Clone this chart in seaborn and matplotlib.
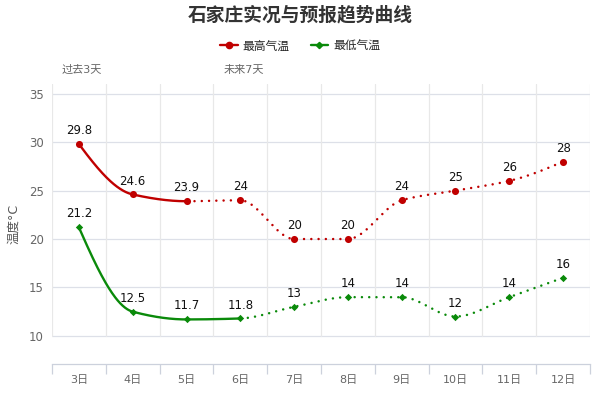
import numpy as np
import pandas as pd
import matplotlib
matplotlib.use("Agg")
import matplotlib.pyplot as plt
import seaborn as sns
from matplotlib.lines import Line2D

days = ["3日", "4日", "5日", "6日", "7日", "8日", "9日", "10日", "11日", "12日"]
high = [29.8, 24.6, 23.9, 24, 20, 20, 24, 25, 26, 28]
low = [21.2, 12.5, 11.7, 11.8, 13, 14, 14, 12, 14, 16]
high_labels = ["29.8", "24.6", "23.9", "24", "20", "20", "24", "25", "26", "28"]
low_labels = ["21.2", "12.5", "11.7", "11.8", "13", "14", "14", "12", "14", "16"]
high_solid_end = 2
low_solid_end = 3
title = "石家庄实况与预报趋势曲线"
ylabel = "温度°C"
past_label = "过去3天"
future_label = "未来7天"
yticks = [10, 15, 20, 25, 30, 35]

RED = "#c00000"
GREEN = "#0a8a0a"

sns.set_theme(style="white")
plt.rcParams["font.family"] = ["DejaVu Sans", "Noto Sans CJK SC"]


def pchip(x, y, xs):
    x = np.asarray(x, float)
    y = np.asarray(y, float)
    h = np.diff(x)
    d = np.diff(y) / h
    n = len(x)
    m = np.zeros(n)
    for k in range(1, n - 1):
        if d[k - 1] * d[k] <= 0:
            m[k] = 0
        else:
            w1 = 2 * h[k] + h[k - 1]
            w2 = h[k] + 2 * h[k - 1]
            m[k] = (w1 + w2) / (w1 / d[k - 1] + w2 / d[k])
    m[0] = ((2 * h[0] + h[1]) * d[0] - h[0] * d[1]) / (h[0] + h[1])
    if np.sign(m[0]) != np.sign(d[0]):
        m[0] = 0
    elif np.sign(d[0]) != np.sign(d[1]) and abs(m[0]) > abs(3 * d[0]):
        m[0] = 3 * d[0]
    m[-1] = ((2 * h[-1] + h[-2]) * d[-1] - h[-1] * d[-2]) / (h[-1] + h[-2])
    if np.sign(m[-1]) != np.sign(d[-1]):
        m[-1] = 0
    elif np.sign(d[-1]) != np.sign(d[-2]) and abs(m[-1]) > abs(3 * d[-1]):
        m[-1] = 3 * d[-1]
    out = np.empty_like(xs, dtype=float)
    for i, xv in enumerate(xs):
        k = min(np.searchsorted(x, xv, side="right") - 1, n - 2)
        k = max(k, 0)
        t = (xv - x[k]) / h[k]
        h00 = 2 * t**3 - 3 * t**2 + 1
        h10 = t**3 - 2 * t**2 + t
        h01 = -2 * t**3 + 3 * t**2
        h11 = t**3 - t**2
        out[i] = h00 * y[k] + h10 * h[k] * m[k] + h01 * y[k + 1] + h11 * h[k] * m[k + 1]
    return out


fig = plt.figure(figsize=(6, 4), dpi=100)
ax = fig.add_axes([0.0867, 0.09, 0.8966, 0.70])

xpos = np.arange(len(days))
ymin, ymax = 7.1, 36.0

# grid
for yv in yticks:
    ax.axhline(yv, color="#dde0e8", lw=0.9, zorder=0)
frac10 = (10 - ymin) / (ymax - ymin)
for b in np.arange(-0.5, len(days), 1.0):
    ax.axvline(b, ymin=frac10, ymax=1, color="#e8e8e8", lw=0.9, zorder=0)


def draw_series(vals, labels, color, solid_end, marker, msize):
    xs = np.linspace(0, len(vals) - 1, 600)
    ys = pchip(xpos, vals, xs)
    split = solid_end
    solid = xs <= split
    dotted = xs >= split
    sns.lineplot(x=xs[solid], y=ys[solid], ax=ax, color=color, lw=1.7, sort=False,
                 estimator=None, zorder=3)
    ax.plot(xs[dotted], ys[dotted], color=color, lw=1.8, linestyle=(0, (0.01, 2.9)),
            dash_capstyle="round", zorder=3)
    df = pd.DataFrame({"x": xpos, "y": vals})
    sns.scatterplot(data=df, x="x", y="y", ax=ax, color=color, marker=marker,
                    s=msize, edgecolor=color, linewidth=0, zorder=4)
    for xv, yv, lab in zip(xpos, vals, labels):
        ax.annotate(lab, (xv, yv), xytext=(0, 5), textcoords="offset points",
                    ha="center", va="bottom", fontsize=8.5, color="#111111", zorder=5)


draw_series(high, high_labels, RED, high_solid_end, "o", 26)
draw_series(low, low_labels, GREEN, low_solid_end, "D", 14)

ax.set_xlim(-0.5, len(days) - 0.5)
ax.set_ylim(ymin, ymax)
ax.set_yticks(yticks)
ax.set_yticklabels([str(v) for v in yticks], fontsize=8.5, color="#666666")
ax.set_xticks(xpos)
ax.set_xticklabels(days, fontsize=8, color="#666666")
ax.set_xticks(np.arange(-0.5, len(days), 1.0), minor=True)
ax.tick_params(axis="x", which="major", length=0, pad=8)
ax.tick_params(axis="x", which="minor", bottom=True, length=7, color="#ccd1dc",
               width=0.9, direction="out")
ax.tick_params(axis="y", length=0, pad=6)
ax.set_xlabel("")
ax.set_ylabel(ylabel, fontsize=9, color="#555555", labelpad=6)
for s in ["top", "right", "left"]:
    ax.spines[s].set_visible(False)
ax.spines["bottom"].set_color("#ccd1dc")
ax.spines["bottom"].set_linewidth(0.9)

fig.text(0.5, 0.963, title, ha="center", va="center", fontsize=13.5,
         fontweight="bold", color="#333333")
fig.text(0.103, 0.825, past_label, ha="left", va="center", fontsize=8, color="#666666")
fig.text(0.373, 0.825, future_label, ha="left", va="center", fontsize=8, color="#666666")

handles = [
    Line2D([0], [0], color=RED, lw=1.7, marker="o", markersize=4.5, label="最高气温"),
    Line2D([0], [0], color=GREEN, lw=1.7, marker="D", markersize=3.2, label="最低气温"),
]
fig.legend(handles=handles, loc="center", bbox_to_anchor=(0.5, 0.885), ncol=2,
           frameon=False, fontsize=8.5, handlelength=1.5, handletextpad=0.4,
           columnspacing=1.8)

fig.savefig("out.png", dpi=100)
